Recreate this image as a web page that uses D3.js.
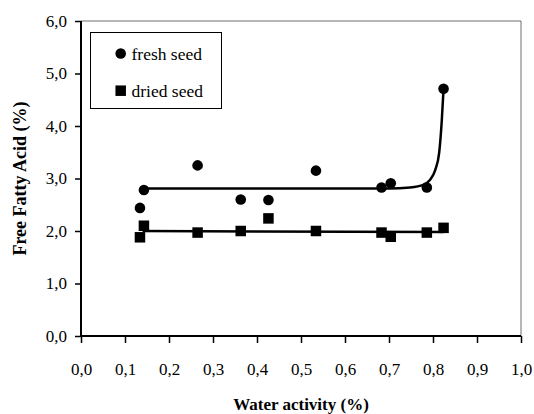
<!DOCTYPE html>
<html>
<head>
<meta charset="utf-8">
<script src="https://cdn.jsdelivr.net/npm/d3@7"></script>
<style>
  body { margin: 0; background: #fff; }
  svg text { font-family: "Liberation Serif", "Times New Roman", Tinos, "DejaVu Serif", serif; fill: #000; }
</style>
</head>
<body>
<div id="chart"></div>
<script>
// values
var waterActivity = [0.134, 0.143, 0.265, 0.363, 0.426, 0.534, 0.683, 0.704, 0.786, 0.824];
var freshSeed = [2.44, 2.78, 3.25, 2.60, 2.59, 3.15, 2.83, 2.91, 2.83, 4.71];
var driedSeed = [1.88, 2.10, 1.97, 2.00, 2.24, 2.00, 1.97, 1.89, 1.97, 2.06];

// trend lines as drawn on the picture
var freshTrendX = [0.143, 0.70, 0.748, 0.778, 0.793, 0.805, 0.814, 0.820, 0.824];
var freshTrendY = [2.81, 2.81, 2.83, 2.88, 2.97, 3.16, 3.49, 4.11, 4.71];
var driedTrendX = [0.14, 0.824];
var driedTrendY = [2.00, 1.98];

var xTicks = [0, 0.1, 0.2, 0.3, 0.4, 0.5, 0.6, 0.7, 0.8, 0.9, 1.0];
var yTicks = [0, 1, 2, 3, 4, 5, 6];

var margin = { top: 21, right: 13, bottom: 78, left: 81 },
    width = 534 - margin.left - margin.right,
    height = 414 - margin.top - margin.bottom;

var svg = d3.select("#chart")
    .append("svg")
    .attr("width", 534)
    .attr("height", 414);

var g = svg.append("g")
    .attr("transform", "translate(" + margin.left + "," + margin.top + ")");

var x = d3.scaleLinear().domain([0, 1]).range([0, width]);
var y = d3.scaleLinear().domain([0, 6]).range([height, 0]);

var comma = function(d) { return d3.format(".1f")(d).replace(".", ","); };

// top and right frame
g.append("path")
    .attr("d", "M0,0H" + width + "V" + height)
    .attr("fill", "none")
    .attr("stroke", "#6e6e6e")
    .attr("stroke-width", 1);

// x axis
var xAxis = g.append("g")
    .attr("transform", "translate(0," + height + ")")
    .call(d3.axisBottom(x).tickValues(xTicks).tickFormat(comma).tickSize(7).tickPadding(20));

// y axis
var yAxis = g.append("g")
    .call(d3.axisLeft(y).tickValues(yTicks).tickFormat(comma).tickSize(6).tickPadding(8));

[xAxis, yAxis].forEach(function(a) {
    a.attr("font-family", null).attr("font-size", null);
    a.select(".domain").attr("stroke", "#000").attr("stroke-width", 2);
    a.selectAll(".tick line").attr("stroke", "#000").attr("stroke-width", 1.5);
    a.selectAll(".tick text")
        .style("font-size", "17px")
        .attr("fill", "#000");
});
yAxis.select(".domain").attr("d", "M0,0V" + height);
xAxis.select(".domain").attr("d", "M0,0H" + width);

// axis titles
svg.append("text")
    .attr("x", margin.left + width / 2)
    .attr("y", 410)
    .attr("text-anchor", "middle")
    .style("font-weight", "bold")
    .style("font-size", "17px")
    .text("Water activity (%)");

svg.append("text")
    .attr("transform", "translate(26," + (margin.top + height / 2) + ") rotate(-90)")
    .attr("text-anchor", "middle")
    .style("font-weight", "bold")
    .style("font-size", "18px")
    .text("Free Fatty Acid (%)");

// trend lines
var line = d3.line()
    .x(function(d) { return x(d[0]); })
    .y(function(d) { return y(d[1]); })
    .curve(d3.curveMonotoneX);

g.append("path")
    .datum(d3.zip(freshTrendX, freshTrendY))
    .attr("d", line)
    .attr("fill", "none")
    .attr("stroke", "#000")
    .attr("stroke-width", 2.5);

g.append("path")
    .datum(d3.zip(driedTrendX, driedTrendY))
    .attr("d", line)
    .attr("fill", "none")
    .attr("stroke", "#000")
    .attr("stroke-width", 2.5);

// points
g.selectAll(".fresh")
    .data(d3.zip(waterActivity, freshSeed))
    .enter()
    .append("circle")
    .attr("class", "fresh")
    .attr("cx", function(d) { return x(d[0]); })
    .attr("cy", function(d) { return y(d[1]); })
    .attr("r", 5.3)
    .attr("fill", "#000");

var sq = 10.5;
g.selectAll(".dried")
    .data(d3.zip(waterActivity, driedSeed))
    .enter()
    .append("rect")
    .attr("class", "dried")
    .attr("x", function(d) { return x(d[0]) - sq / 2; })
    .attr("y", function(d) { return y(d[1]) - sq / 2; })
    .attr("width", sq)
    .attr("height", sq)
    .attr("fill", "#000");

// legend
var legend = svg.append("g");
legend.append("rect")
    .attr("x", 90.5)
    .attr("y", 32.5)
    .attr("width", 131)
    .attr("height", 76)
    .attr("fill", "#fff")
    .attr("stroke", "#000")
    .attr("stroke-width", 1);
legend.append("circle")
    .attr("cx", 120.7)
    .attr("cy", 53.5)
    .attr("r", 5.3)
    .attr("fill", "#000");
legend.append("rect")
    .attr("x", 120.7 - sq / 2)
    .attr("y", 90.7 - sq / 2)
    .attr("width", sq)
    .attr("height", sq)
    .attr("fill", "#000");
legend.append("text")
    .attr("x", 131.5)
    .attr("y", 59.5)
    .style("font-size", "17.5px")
    .text("fresh seed");
legend.append("text")
    .attr("x", 131.5)
    .attr("y", 97)
    .style("font-size", "17.5px")
    .text("dried seed");
</script>
</body>
</html>
